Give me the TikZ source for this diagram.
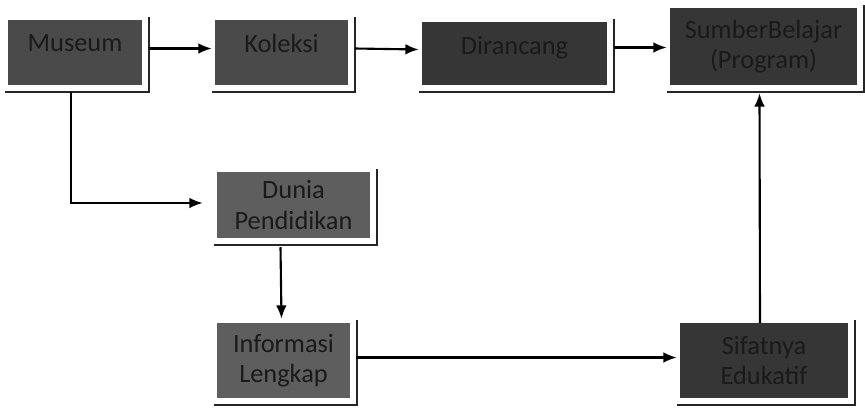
\documentclass[tikz,border=0pt]{standalone}
\usepackage{fontspec}
\setmainfont{Carlito}
\usetikzlibrary{arrows.meta}
\definecolor{cxescuro}{HTML}{363636}
\definecolor{cxmedio}{HTML}{4A4A4A}
\definecolor{cxclaro}{HTML}{5E5E5E}
\definecolor{textoc}{HTML}{1A1A1A}
\tikzset{
  caixa/.style={fill=#1,draw=none,text=textoc,align=center,inner sep=2pt,
    font=\fontsize{22.5pt}{26pt}\selectfont},
  sombra/.style={line width=2pt,black!85},
  seta/.style={line width=1.8pt,-{Latex[length=4mm,width=3.2mm]}}
}
\begin{document}
\begin{tikzpicture}[x=0.03cm,y=-0.03cm]
  \useasboundingbox (0,0) rectangle (865,408);
  %linha de cima
  \node[caixa=cxmedio,minimum width=134*0.03cm,minimum height=65*0.03cm,text depth=0.55cm] (museum) at (75,52.5) {Museum};
  \node[caixa=cxmedio,minimum width=133*0.03cm,minimum height=65*0.03cm,text depth=0.55cm] (koleksi) at (281.5,52.5) {Koleksi};
  \node[caixa=cxescuro,minimum width=185*0.03cm,minimum height=63*0.03cm,text depth=0.5cm] (dirancang) at (514.5,53.5) {Dirancang};
  \node[caixa=cxescuro,minimum width=187*0.03cm,minimum height=77*0.03cm] (sumber) at (763.5,46.5) {SumberBelajar\\(Program)};
  %caixas de baixo
  \node[caixa=cxclaro,minimum width=153*0.03cm,minimum height=66*0.03cm] (dunia) at (293.5,205) {Dunia\\Pendidikan};
  \node[caixa=cxclaro,minimum width=133*0.03cm,minimum height=75*0.03cm] (informasi) at (283.5,360.5) {Informasi\\Lengkap};
  \node[caixa=cxescuro,minimum width=168*0.03cm,minimum height=75*0.03cm] (sifatnya) at (764,360.5) {Sifatnya\\Edukatif};

  %sombras
  \foreach \n in {museum,koleksi,dirancang,sumber,dunia,informasi,sifatnya}
    \draw[sombra] ([shift={(-3,7)}]\n.south west) -- ([shift={(7,7)}]\n.south east) -- ([shift={(7,-3)}]\n.north east);

  %setas
  \draw[seta] ([shift={(7,-4)}]museum.east) -- ([shift={(-3,-4)}]koleksi.west);
  \draw[seta] ([shift={(7,-4)}]koleksi.east) -- ([shift={(-3,-4)}]dirancang.west);
  \draw[seta] ([shift={(7,-6)}]dirancang.east) -- ([shift={(-3,1)}]sumber.west);
  \draw[seta] ([shift={(-4,7)}]museum.south) |- ([shift={(-14,-2)}]dunia.west);
  \draw[seta] ([shift={(-13,9)}]dunia.south) -- ([shift={(-2,-4)}]informasi.north);
  \draw[seta] ([shift={(6,-3)}]informasi.east) -- ([shift={(-3,-3)}]sifatnya.west);
  \draw[seta] ([shift={(-4,0)}]sifatnya.north) -- ([shift={(-4,8)}]sumber.south);
\end{tikzpicture}
\end{document}
